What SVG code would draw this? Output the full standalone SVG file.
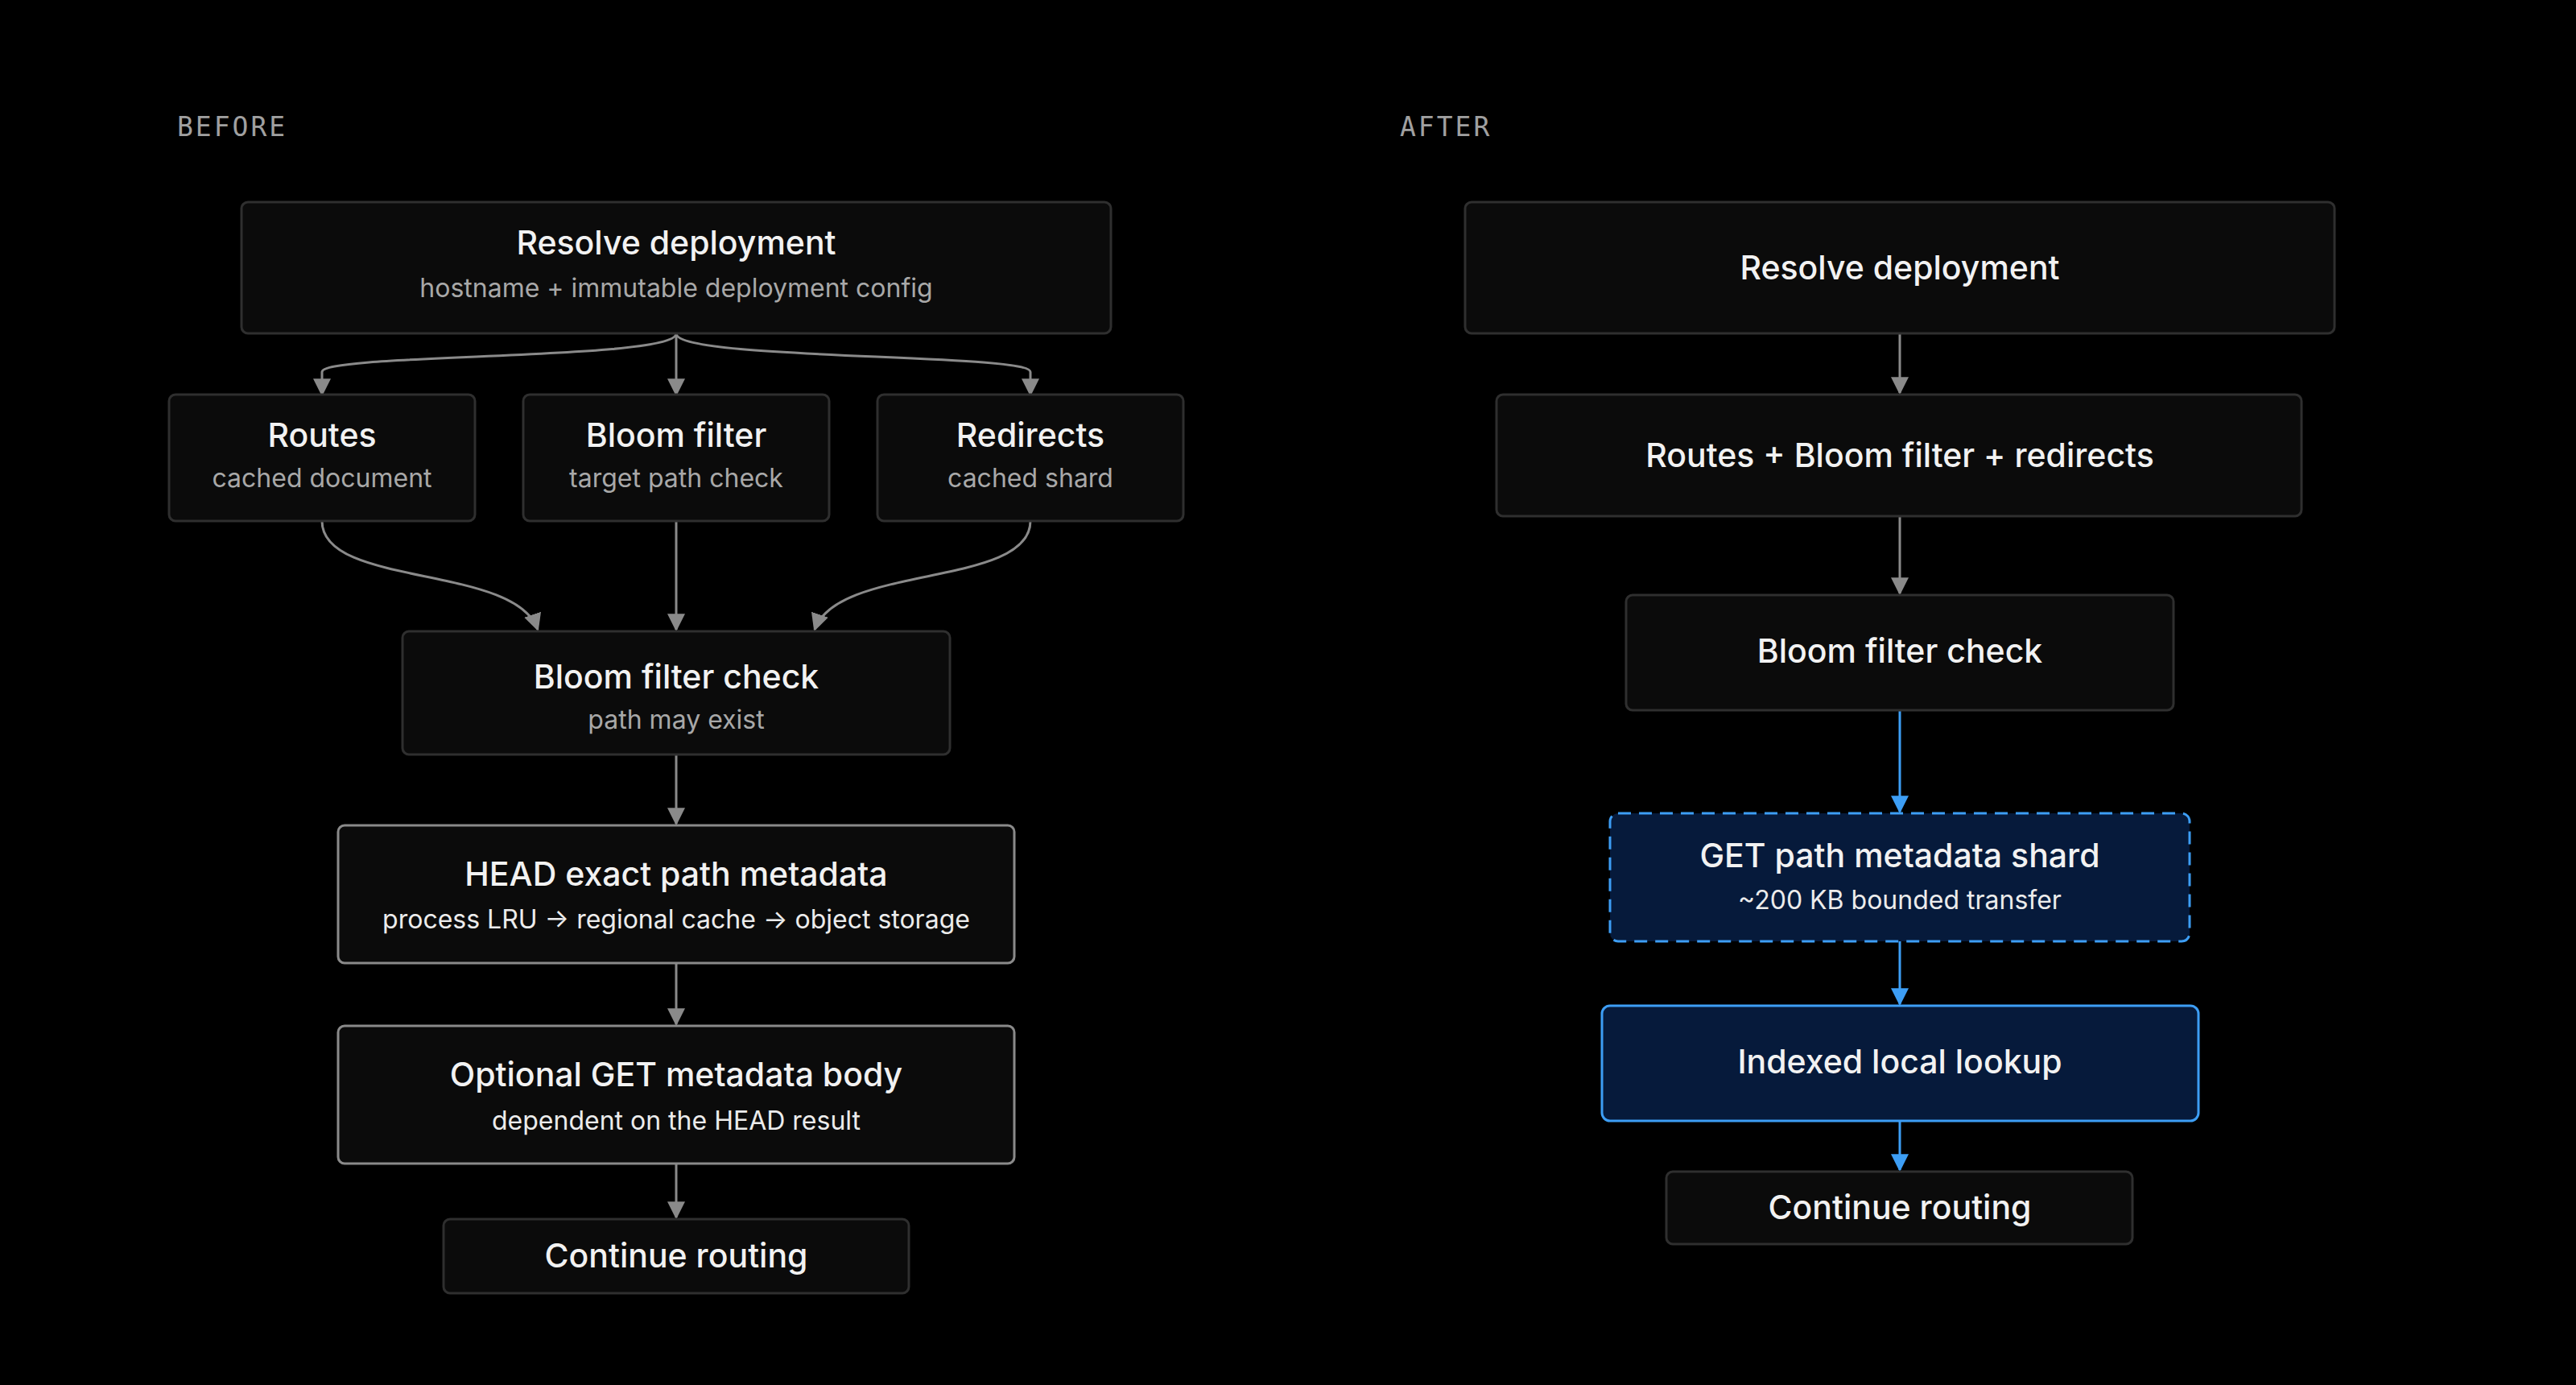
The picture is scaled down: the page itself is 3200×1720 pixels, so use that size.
<svg xmlns="http://www.w3.org/2000/svg" width="3200" height="1720" viewBox="0 0 3200 1720">
<defs>
<marker id="ag" viewBox="0 0 10 10" refX="9" refY="5" markerWidth="22" markerHeight="22" markerUnits="userSpaceOnUse" orient="auto"><path d="M0,0 L10,5 L0,10 z" fill="#8a8a8a"/></marker>
<marker id="ab" viewBox="0 0 10 10" refX="9" refY="5" markerWidth="22" markerHeight="22" markerUnits="userSpaceOnUse" orient="auto"><path d="M0,0 L10,5 L0,10 z" fill="#3d9ef5"/></marker>
<style>
.box{fill:#0b0b0b;stroke:#2f2f2f;stroke-width:3}
.boxl{fill:#0b0b0b;stroke:#8a8a8a;stroke-width:3}
.blue{fill:#061a3b;stroke:#3d9ef5;stroke-width:3}
.dash{stroke-dasharray:16 10}
.t{font-family:Inter,"Liberation Sans",sans-serif;font-size:41px;font-weight:500;fill:#f2f2f2;text-anchor:middle}
.s{font-family:Inter,"Liberation Sans",sans-serif;font-size:32px;fill:#a8a8a8;text-anchor:middle}
.sw{fill:#ececec}
.h{font-family:"DejaVu Sans Mono","Liberation Mono",monospace;font-size:33px;fill:#a0a0a0;letter-spacing:3px}
.cg{fill:none;stroke:#8a8a8a;stroke-width:3;marker-end:url(#ag)}
.cb{fill:none;stroke:#3d9ef5;stroke-width:3;marker-end:url(#ab)}
</style>
</defs>
<rect width="3200" height="1720" fill="#000"/>
<text class="h" x="220" y="169">BEFORE</text>
<text class="h" x="1739" y="169">AFTER</text>
<g id="connectors">
<path class="cg" d="M840,414 C840,448 400,438 400,462 L400,490"/>
<path class="cg" d="M840,414 L840,490"/>
<path class="cg" d="M840,414 C840,448 1280,438 1280,462 L1280,490"/>
<path class="cg" d="M400,647 C400,730 640,700 668,782"/>
<path class="cg" d="M840,647 L840,782"/>
<path class="cg" d="M1280,647 C1280,730 1040,700 1012,782"/>
<path class="cg" d="M840,937 L840,1023"/>
<path class="cg" d="M840,1196 L840,1272"/>
<path class="cg" d="M840,1445 L840,1512"/>
<path class="cg" d="M2360,414 L2360,488"/>
<path class="cg" d="M2360,641 L2360,737"/>
<path class="cb" d="M2360,882 L2360,1008"/>
<path class="cb" d="M2360,1169 L2360,1247"/>
<path class="cb" d="M2360,1392 L2360,1453"/>
</g>
<g id="b-resolve"><rect class="box" x="300" y="251" width="1080" height="163" rx="8"/><text class="t" x="840" y="316">Resolve deployment</text><text class="s" x="840" y="369">hostname + immutable deployment config</text></g>
<g id="b-routes"><rect class="box" x="210" y="490" width="380" height="157" rx="8"/><text class="t" x="400" y="555">Routes</text><text class="s" x="400" y="605">cached document</text></g>
<g id="b-bloom"><rect class="box" x="650" y="490" width="380" height="157" rx="8"/><text class="t" x="840" y="555">Bloom filter</text><text class="s" x="840" y="605">target path check</text></g>
<g id="b-redirects"><rect class="box" x="1090" y="490" width="380" height="157" rx="8"/><text class="t" x="1280" y="555">Redirects</text><text class="s" x="1280" y="605">cached shard</text></g>
<g id="b-check"><rect class="box" x="500" y="784" width="680" height="153" rx="8"/><text class="t" x="840" y="855">Bloom filter check</text><text class="s" x="840" y="905">path may exist</text></g>
<g id="b-head"><rect class="boxl" x="420" y="1025" width="840" height="171" rx="8"/><text class="t" x="840" y="1100">HEAD exact path metadata</text><text class="s sw" x="840" y="1153">process LRU → regional cache → object storage</text></g>
<g id="b-optget"><rect class="boxl" x="420" y="1274" width="840" height="171" rx="8"/><text class="t" x="840" y="1349">Optional GET metadata body</text><text class="s sw" x="840" y="1403">dependent on the HEAD result</text></g>
<g id="b-continue"><rect class="box" x="551" y="1514" width="578" height="92" rx="8"/><text class="t" x="840" y="1574">Continue routing</text></g>
<g id="a-resolve"><rect class="box" x="1820" y="251" width="1080" height="163" rx="8"/><text class="t" x="2360" y="347">Resolve deployment</text></g>
<g id="a-routes"><rect class="box" x="1859" y="490" width="1000" height="151" rx="8"/><text class="t" x="2360" y="580">Routes + Bloom filter + redirects</text></g>
<g id="a-check"><rect class="box" x="2020" y="739" width="680" height="143" rx="8"/><text class="t" x="2360" y="823">Bloom filter check</text></g>
<g id="a-get"><rect class="blue dash" x="2000" y="1010" width="720" height="159" rx="10"/><text class="t" x="2360" y="1077">GET path metadata shard</text><text class="s sw" x="2360" y="1129">~200 KB bounded transfer</text></g>
<g id="a-indexed"><rect class="blue" x="1990" y="1249" width="741" height="143" rx="10"/><text class="t" x="2360" y="1333">Indexed local lookup</text></g>
<g id="a-continue"><rect class="box" x="2070" y="1455" width="579" height="90" rx="8"/><text class="t" x="2360" y="1514">Continue routing</text></g>
</svg>
